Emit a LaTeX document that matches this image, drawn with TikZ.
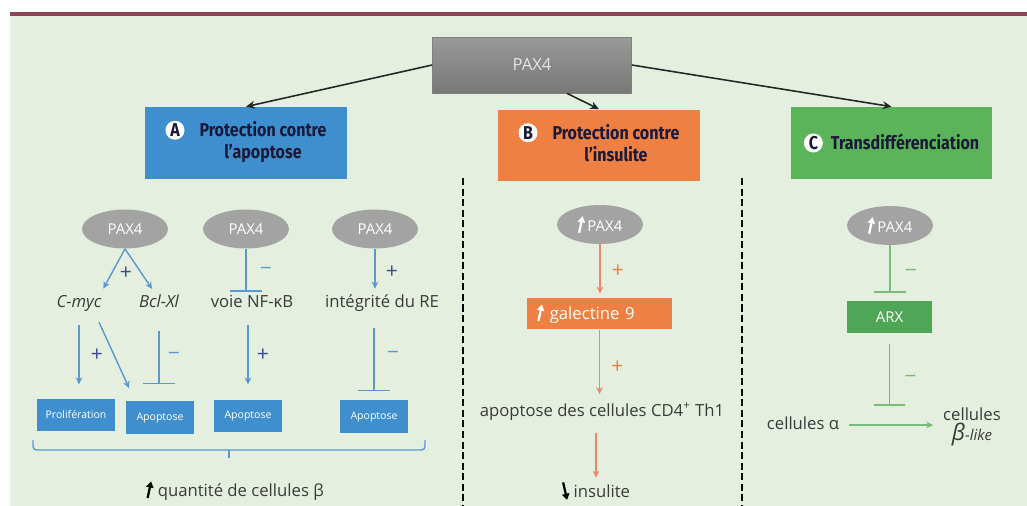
\documentclass[tikz,border=0pt]{standalone}
\usepackage{fontspec}
\setmainfont{Open Sans}
\newfontfamily\headfont[FakeStretch=0.86]{Fira Sans}
\usepackage{xcolor}
\usepackage{tikz}
\usetikzlibrary{arrows.meta,positioning,shapes.geometric,calc}

\definecolor{fondvert}{HTML}{E5EFE0}
\definecolor{bordeaux}{HTML}{8C4655}
\definecolor{bleuA}{HTML}{3F8FCE}
\definecolor{bleuF}{HTML}{5B97D0}
\definecolor{bleuS}{HTML}{3C4A8C}
\definecolor{orangeB}{HTML}{EF8043}
\definecolor{orangeF}{HTML}{E98A64}
\definecolor{vertC}{HTML}{5BB45A}
\definecolor{vertX}{HTML}{4FA656}
\definecolor{vertF}{HTML}{79BB78}
\definecolor{grisE}{HTML}{A3A3A3}
\definecolor{texte}{HTML}{3A3A3A}
\definecolor{titre}{HTML}{1A1A38}

\newcommand{\lettre}[1]{\tikz[baseline=(lt.base)]\node[circle, fill=white, inner sep=0pt, minimum size=0.38cm] (lt) {#1};}
\newcommand{\fleche}[1][black]{\tikz[baseline=0pt]\draw[#1, line width=1.3pt, -{Triangle[length=3.5pt,width=4.2pt]}] (0,-0.03cm) -- (0.07cm,0.3cm);}
\newcommand{\flechebas}[1][black]{\tikz[baseline=0pt]\draw[#1, line width=1.3pt, -{Triangle[length=3.5pt,width=4.2pt]}] (0,0.3cm) -- (0.08cm,-0.05cm);}

\begin{document}
\begin{tikzpicture}[
    x=0.02cm, y=-0.02cm,
    box/.style={rectangle, fill=#1, minimum width=4.04cm, minimum height=1.44cm,
                text=titre, font=\headfont\bfseries\fontsize{10.6}{12.5}\selectfont},
    topbox/.style={rectangle, minimum width=3.98cm, minimum height=1.12cm,
                top color=black!40, bottom color=black!53, draw=black!50,
                text=white!90!black, font=\fontsize{9.5}{10}\selectfont},
    bulle/.style={ellipse, fill=grisE, minimum width=1.72cm, minimum height=0.78cm,
                inner sep=0pt, text=white, font=\fontsize{8.5}{10}\selectfont},
    petit/.style={rectangle, fill=bleuA, minimum height=0.65cm, inner sep=1pt,
                text=white, font=\fontsize{6}{7}\selectfont},
    lbl/.style={font=\fontsize{9.5}{11}\selectfont, text=texte, inner sep=0pt,
                text height=7pt, text depth=2pt},
    signe/.style={font=\fontsize{12}{12}\selectfont, inner sep=0pt},
    lien/.style={-{Stealth[length=5pt,width=4.5pt]}, line width=0.9pt, black!85},
    act/.style={-{Stealth[length=4pt,width=3.8pt]}, line width=0.8pt},
    inh/.style={-{Bar[width=18pt, line width=0.8pt]}, line width=0.8pt}
]

%% Fond
\useasboundingbox (0,0) rectangle (1027,506);
\fill[white] (0,0) rectangle (1027,506);
\fill[fondvert] (10,16) rectangle (1027,506);
\fill[bordeaux] (10,12) rectangle (1027,16);

%% PAX4 et les trois effets
\node[topbox] (pax) at (532,65) {PAX4};
\node[box=bleuA] (boxA) at (246,143) {\lettre{A}\hspace{0.3cm}\begin{tabular}[t]{@{}c@{}}Protection contre\\l’apoptose\end{tabular}};
\node[box=orangeB] (boxB) at (599,145.5) {\lettre{B}\hspace{0.3cm}\begin{tabular}[t]{@{}c@{}}Protection contre\\l’insulite\end{tabular}};
\node[box=vertC] (boxC) at (891.5,143) {\lettre{C}\hspace{0.16cm}Transdifférenciation};

\draw[lien] (pax.west) -- (boxA.north);
\draw[lien] ([xshift=0.7cm]pax.south) -- (boxB.north);
\draw[lien] (pax.east) -- (boxC.north);

%% Separations
\draw[line width=1.2pt, dash pattern=on 4pt off 2pt] (463,178) -- (463,506);
\draw[line width=1.2pt, dash pattern=on 4pt off 2pt] (742,178) -- (742,506);

%% A : protection contre l'apoptose
\node[bulle] (e1) at (125,229) {PAX4};
\node[bulle] (e2) at (246,229) {PAX4};
\node[bulle] (e3) at (375,229) {PAX4};

\node[lbl] (cmyc) at (79,303) {\itshape C-myc};
\node[lbl] (bcl) at (159,303) {\itshape Bcl-Xl};
\node[lbl] (nfkb) at (252,303) {voie NF-κB};
\node[lbl] (re) at (382,303) {intégrité du RE};

\node[petit, minimum width=1.56cm] (prolif) at (76,415) {Prolifération};
\node[petit, minimum width=1.36cm] (apo1) at (160,417.5) {Apoptose};
\node[petit, minimum width=1.36cm] (apo2) at (248,416) {Apoptose};
\node[petit, minimum width=1.36cm] (apo3) at (374,416.5) {Apoptose};

\draw[act, bleuF, shorten >=4pt] (e1.south) -- ([xshift=0.42cm]cmyc.north);
\draw[act, bleuF, shorten >=4pt] (e1.south) -- ([xshift=-0.06cm]bcl.north);
\node[signe, text=bleuS] (plus1) at (126,273) {+};
\draw[inh, bleuF, shorten >=1.7pt] (e2.south) -- (e2.south |- nfkb.north)
    node[signe, midway, xshift=0.4cm, text=bleuF] {−};
\draw[act, bleuF, shorten >=3.5pt] (e3.south) -- (e3.south |- re.north)
    node[signe, midway, xshift=0.34cm, text=bleuS] {+};

\draw[act, bleuF, shorten <=8pt, shorten >=8pt] (cmyc.south) -- (cmyc.south |- prolif.north)
    node[signe, midway, xshift=0.36cm, text=bleuS] {+};
\draw[act, bleuF, shorten <=7pt, shorten >=8pt] ([xshift=0.3cm]cmyc.south) -- ([xshift=-0.5cm]apo1.north);
\draw[inh, bleuF, shorten <=11pt, shorten >=9.5pt] (bcl.south) -- (bcl.south |- apo1.north)
    node[signe, midway, xshift=0.3cm, text=bleuF] {−};
\draw[act, bleuF, shorten <=8pt, shorten >=8.5pt] (apo2.north |- nfkb.south) -- (apo2.north)
    node[signe, midway, xshift=0.3cm, text=bleuS] {+};
\draw[inh, bleuF, shorten <=9.5pt, shorten >=5pt] (apo3.north |- re.south) -- (apo3.north)
    node[signe, midway, xshift=0.38cm, text=bleuF] {−};

\draw[bleuF, line width=0.8pt, rounded corners=2pt] (33,440) -- (33,450) -- (425,450) -- (425,440);
\draw[bleuF, line width=0.8pt] (229,450) -- (229,458);
\node[lbl] (quant) at (235,492) {\fleche\ quantité de cellules β};

%% B : protection contre l'insulite
\node[bulle] (eB) at (600,224.5) {\fleche[white]\,PAX4};
\node[rectangle, fill=orangeB, minimum height=0.62cm, inner xsep=0.2cm, text width=2.5cm,
      align=left, text=white, font=\fontsize{9.5}{11}\selectfont] (gal) at (599.5,313.5) {\fleche[white]\ galectine 9};
\node[lbl] (apoCD) at (602,412) {apoptose des cellules CD4\textsuperscript{+} Th1};
\node[lbl] (insul) at (596,493) {\flechebas\ insulite};

\draw[act, orangeF, shorten >=2pt] (eB.south) -- (eB.south |- gal.north)
    node[signe, midway, xshift=0.36cm, text=orangeB] {+};
\draw[act, orangeF, shorten >=5.5pt] (gal.south) -- (gal.south |- apoCD.north)
    node[signe, midway, xshift=0.36cm, text=orangeB] {+};
\draw[act, orangeF, shorten <=7pt, shorten >=4pt] (apoCD.south -| insul) -- (insul.north);

%% C : transdifferenciation
\node[bulle] (eC) at (890,225.5) {\fleche[white]\,PAX4};
\node[rectangle, fill=vertX, minimum width=1.7cm, minimum height=0.64cm, text=white,
      font=\fontsize{8.5}{10}\selectfont] (arx) at (889.5,317) {ARX};
\node[lbl] (calpha) at (803,425) {cellules α};
\node[font=\fontsize{9.5}{11}\selectfont, text=texte, inner sep=0pt, align=center] (cbeta) at (972,427)
    {cellules\\{\fontsize{13}{13}\selectfont\itshape β}{\fontsize{8.5}{10}\selectfont\itshape -like}};

\draw[inh, vertF, shorten >=4.5pt] (eC.south) -- (eC.south |- arx.north)
    node[signe, midway, xshift=0.42cm, text=vertF] {−};
\draw[act, vertF, shorten <=5.5pt, shorten >=5.5pt] (calpha.east) -- (calpha.east -| cbeta.west)
    coordinate[midway] (conv);
\draw[inh, vertF, shorten <=6pt, shorten >=11pt] (arx.south) -- (arx.south |- conv)
    node[signe, midway, xshift=0.42cm, text=vertF] {−};

\end{tikzpicture}
\end{document}
